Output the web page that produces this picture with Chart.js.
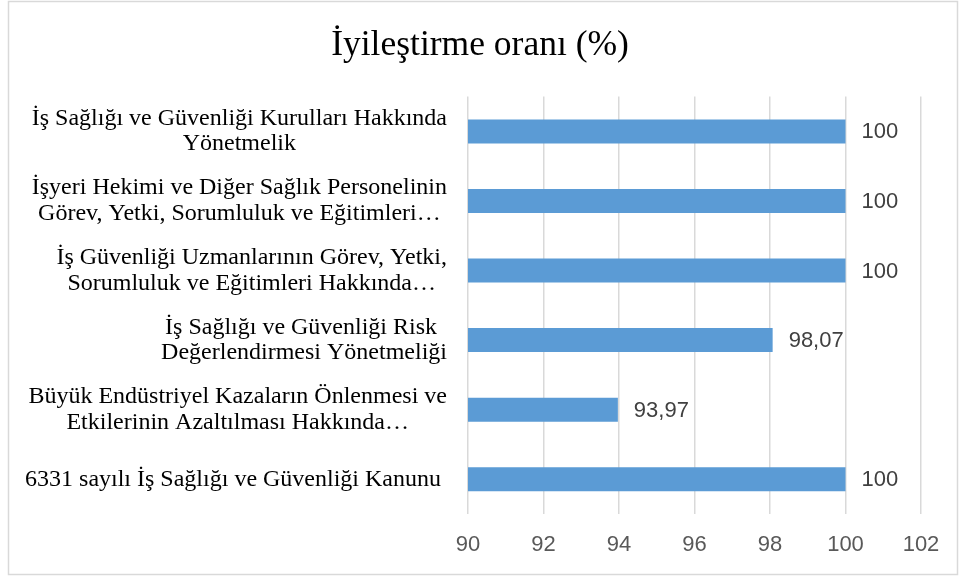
<!DOCTYPE html>
<html>
<head>
<meta charset="utf-8">
<script src="https://cdn.jsdelivr.net/npm/chart.js@4.4.1/dist/chart.umd.min.js"></script>
<style>
  body { margin: 0; background: #fff; }
  #wrap { width: 960px; height: 578px; }
</style>
</head>
<body>
<div id="wrap"><canvas id="oran" width="960" height="578"></canvas></div>
<script>
// data
const categories = [
	["İş Sağlığı ve Güvenliği Kurulları Hakkında", "Yönetmelik"],
	["İşyeri Hekimi ve Diğer Sağlık Personelinin", "Görev, Yetki, Sorumluluk ve Eğitimleri…"],
	["İş Güvenliği Uzmanlarının Görev, Yetki,", "Sorumluluk ve Eğitimleri Hakkında…"],
	["İş Sağlığı ve Güvenliği Risk ", "Değerlendirmesi Yönetmeliği"],
	["Büyük Endüstriyel Kazaların Önlenmesi ve", "Etkilerinin Azaltılması Hakkında…"],
	["6331 sayılı İş Sağlığı ve Güvenliği Kanunu "]
]
const values = [100, 100, 100, 98.07, 93.97, 100]
const xMin = 90
const xMax = 102
const xStep = 2
const title = "İyileştirme oranı (%)"

const serif = "'Liberation Serif', 'Times New Roman', serif"
const sans = "'Liberation Sans Narrow', 'Liberation Sans', sans-serif"

//white background and outer frame
const framePlugin = {
	id: "frame",
	beforeDraw(chart) {
		const ctx = chart.ctx
		ctx.save()
		ctx.fillStyle = "#fff"
		ctx.fillRect(0, 0, chart.width, chart.height)
		ctx.strokeStyle = "#d9d9d9"
		ctx.lineWidth = 1.5
		ctx.strokeRect(8.5, 1.5, 949, 573)
		ctx.restore()
	}
}

//category labels: block right aligned, lines centered inside block
const yLabelPlugin = {
	id: "yLabels",
	afterDraw(chart) {
		const ctx = chart.ctx
		const yScale = chart.scales.y
		const right = 447
		const lineH = 25.5
		ctx.save()
		ctx.font = "24px " + serif
		ctx.fillStyle = "#000"
		ctx.textAlign = "center"
		ctx.textBaseline = "middle"
		categories.forEach((lines, i) => {
			const y = yScale.getPixelForTick(i)
			let maxW = 0
			lines.forEach(l => { maxW = Math.max(maxW, ctx.measureText(l).width) })
			const cx = right - maxW / 2
			const top = y - (lines.length - 1) * lineH / 2
			lines.forEach((l, j) => ctx.fillText(l, cx, top + j * lineH))
		})
		ctx.restore()
	}
}

//value labels right of each bar
const valueLabelPlugin = {
	id: "valueLabels",
	afterDatasetsDraw(chart) {
		const ctx = chart.ctx
		const meta = chart.getDatasetMeta(0)
		ctx.save()
		ctx.font = "22px " + sans
		ctx.fillStyle = "#404040"
		ctx.textAlign = "left"
		ctx.textBaseline = "middle"
		meta.data.forEach((bar, i) => {
			const txt = String(values[i]).replace(".", ",")
			ctx.fillText(txt, bar.x + 16, bar.y + 1)
		})
		ctx.restore()
	}
}

let ctx = document.getElementById("oran").getContext("2d")
let oranChart = new Chart(ctx, {
	type: "bar",
	data: {
		labels: categories,
		datasets: [{
			data: values,
			backgroundColor: "#5b9bd5",
			borderWidth: 0,
			categoryPercentage: 1,
			barPercentage: 0.345
		}]
	},
	options: {
		indexAxis: "y",
		responsive: false,
		animation: false,
		layout: {
			padding: { left: 39, right: 39, top: 0, bottom: 14 }
		},
		plugins: {
			legend: { display: false },
			tooltip: { enabled: false },
			title: {
				display: true,
				text: title,
				color: "#000",
				font: { family: serif, size: 35.5, weight: "normal" },
				padding: { top: 24, bottom: 30 }
			}
		},
		scales: {
			x: {
				min: xMin,
				max: xMax,
				ticks: {
					stepSize: xStep,
					color: "#595959",
					padding: 18,
					font: { family: sans, size: 22 }
				},
				grid: {
					color: "#d9d9d9",
					lineWidth: 1.5,
					drawTicks: false
				},
				border: { display: false },
				afterFit(scale) { scale.height = 50 }
			},
			y: {
				ticks: { display: false },
				grid: { display: false },
				border: { display: false },
				afterFit(scale) { scale.width = 429 }
			}
		}
	},
	plugins: [framePlugin, yLabelPlugin, valueLabelPlugin]
})
</script>
</body>
</html>
